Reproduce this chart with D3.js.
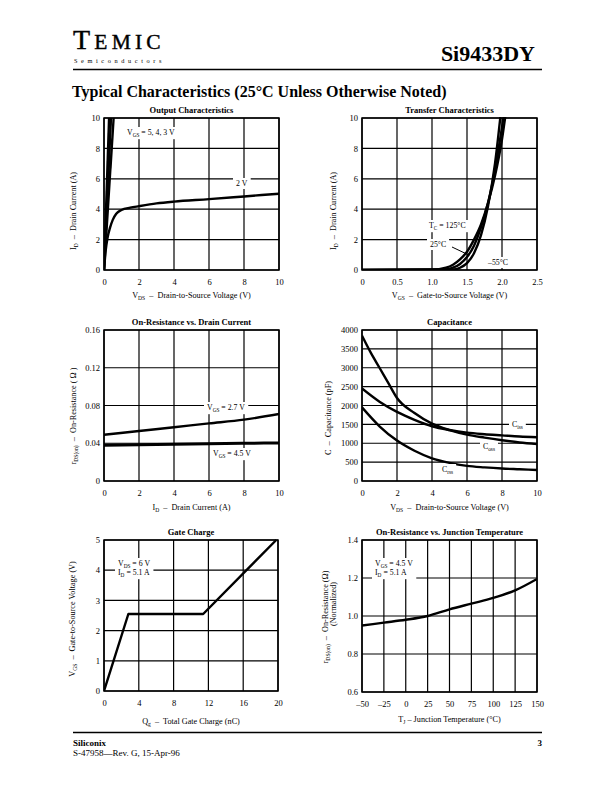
<!DOCTYPE html>
<html><head><meta charset="utf-8">
<script src="https://cdn.jsdelivr.net/npm/d3@7"></script>
<style>body{margin:0;background:#fff} svg{display:block}</style>
</head><body>
<script>
// ---------- DATA ----------
// Output characteristics (VDS, ID)
const outVgs5 = [[0,0],[0.29,10]];
const outVgs4 = [[0,0],[0.4,10]];
const outVgs3 = [[0,0],[0.55,10]];
const outVgs2 = [[0,0],[0.1,1.3],[0.2,2.1],[0.35,2.8],[0.5,3.3],[0.7,3.7],[1,3.95],[1.5,4.1],[2,4.2],[3,4.38],[4,4.5],[6,4.66],[8,4.84],[10,5.02]];
// Transfer characteristics (VGS, ID)
const trans125 = [[0,0],[1.0,0.02],[1.2,0.15],[1.3,0.35],[1.4,0.7],[1.5,1.2],[1.6,2.0],[1.7,3.0],[1.8,4.4],[1.9,6.2],[2.0,8.6],[2.05,10.2]];
const trans25  = [[0,0],[1.2,0.03],[1.3,0.15],[1.4,0.4],[1.5,0.85],[1.6,1.6],[1.7,2.8],[1.8,4.4],[1.9,6.6],[2.0,9.4],[2.03,10.3]];
const transM55 = [[0,0],[1.3,0.03],[1.4,0.15],[1.5,0.45],[1.6,1.1],[1.7,2.3],[1.8,4.2],[1.9,7.0],[1.98,10.2]];
// On-resistance vs drain current (ID, rDS)
const ronVgs27 = [[0,0.049],[2,0.053],[4,0.057],[6,0.061],[8,0.065],[10,0.071]];
const ronVgs45 = [[0,0.038],[2,0.0385],[4,0.039],[6,0.0395],[8,0.04],[10,0.0402]];
// Capacitance (VDS, pF)
const capCurveA = [[0,3850],[0.5,3400],[1,3000],[1.5,2600],[2,2200],[3,1800],[4,1520],[5,1350],[6,1230],[7,1150],[8,1080],[9,1020],[10,980]];
const capCurveB = [[0,2450],[1,2100],[2,1830],[3,1620],[4,1450],[5,1350],[6,1280],[7,1240],[8,1210],[9,1180],[10,1160]];
const capCurveC = [[0,1950],[1,1450],[2,1070],[3,800],[4,600],[5,480],[6,400],[7,360],[8,330],[9,310],[10,290]];
// Gate charge (Qg, VGS)
const gateCharge = [[0,0],[2.8,2.55],[11.4,2.55],[19.8,5]];
// On-resistance vs junction temperature (TJ, normalized)
const ronTemp = [[-50,0.95],[-25,0.965],[0,0.98],[25,1.0],[50,1.035],[75,1.065],[100,1.095],[125,1.135],[150,1.195]];

// tick values & labels
const ticks0to10 = [0,2,4,6,8,10];
const ticks0to10Lbl = ["0","2","4","6","8","10"];
const ticksVgs = [0,0.5,1.0,1.5,2.0,2.5];
const ticksVgsLbl = ["0","0.5","1.0","1.5","2.0","2.5"];
const ticksRon = [0,0.04,0.08,0.12,0.16];
const ticksRonLbl = ["0","0.04","0.08","0.12","0.16"];
const ticksCap = [0,500,1000,1500,2000,2500,3000,3500,4000];
const ticksCapLbl = ["0","500","1000","1500","2000","2500","3000","3500","4000"];
const ticksQg = [0,4,8,12,16,20];
const ticksQgLbl = ["0","4","8","12","16","20"];
const ticksVgs5 = [0,1,2,3,4,5];
const ticksVgs5Lbl = ["0","1","2","3","4","5"];
const ticksTj = [-50,-25,0,25,50,75,100,125,150];
const ticksTjLbl = ["\u201350","\u201325","0","25","50","75","100","125","150"];
const ticksNorm = [0.6,0.8,1.0,1.2,1.4];
const ticksNormLbl = ["0.6","0.8","1.0","1.2","1.4"];

// ---------- DRAWING ----------
const W=612,H=792;
const svg=d3.select("body").append("svg").attr("width",W).attr("height",H)
  .style("font-family","'Liberation Serif','Times New Roman',serif");

function rich(g,str,x,y,size,opts={}){
  const t=g.append("text").attr("font-size",size).attr("text-anchor",opts.anchor||"start")
    .style("white-space","pre").attr("fill","#000");
  if(opts.weight) t.attr("font-weight",opts.weight);
  if(opts.rotate){ t.attr("transform",`translate(${x},${y}) rotate(-90)`).attr("x",0).attr("y",0);}
  else t.attr("x",x).attr("y",y);
  const re=/_\{([^}]*)\}/g; let last=0,m; const parts=[];
  while((m=re.exec(str))){ if(m.index>last) parts.push({t:str.slice(last,m.index)}); parts.push({t:m[1],sub:true}); last=re.lastIndex; }
  if(last<str.length) parts.push({t:str.slice(last)});
  const sh=size*0.28; let cur=0;
  parts.forEach(p=>{
    const ts=t.append("tspan").text(p.t);
    const target=p.sub?sh:0;
    if(target!==cur){ ts.attr("dy",target-cur); cur=target; }
    if(p.sub) ts.attr("font-size",size*0.68);
  });
  return t;
}
function label(g,lines,x,y,size,lh){
  const gg=g.append("g");
  const bg=gg.append("rect").attr("fill","#fff");
  const ts=lines.map((s,i)=>rich(gg,s,x,y+i*lh,size));
  let x0=1e9,y0=1e9,x1=-1e9,y1=-1e9;
  ts.forEach(t=>{const b=t.node().getBBox(); x0=Math.min(x0,b.x);y0=Math.min(y0,b.y);x1=Math.max(x1,b.x+b.width);y1=Math.max(y1,b.y+b.height);});
  const p=3;
  bg.attr("x",x0-p).attr("y",y0-1).attr("width",x1-x0+2*p).attr("height",y1-y0+2);
  return gg;
}

let clipId=0;
function panel(c){
  const g=svg.append("g");
  const x=d3.scaleLinear().domain(c.xd).range([c.l,c.r]);
  const y=d3.scaleLinear().domain(c.yd).range([c.b,c.t]);
  // grid
  g.append("g").selectAll("line").data(c.xt).join("line")
    .attr("x1",d=>x(d)).attr("x2",d=>x(d)).attr("y1",c.t).attr("y2",c.b)
    .attr("stroke","#000").attr("stroke-width",1.2);
  g.append("g").selectAll("line").data(c.yt).join("line")
    .attr("y1",d=>y(d)).attr("y2",d=>y(d)).attr("x1",c.l).attr("x2",c.r)
    .attr("stroke","#000").attr("stroke-width",1.2);
  // axes (labels only)
  const ax=g.append("g").attr("transform",`translate(0,${c.b})`)
    .call(d3.axisBottom(x).tickValues(c.xt).tickSize(0).tickPadding(9).tickFormat((d,i)=>c.xl[i]));
  const ay=g.append("g").attr("transform",`translate(${c.l},0)`)
    .call(d3.axisLeft(y).tickValues(c.yt).tickSize(0).tickPadding(4).tickFormat((d,i)=>c.yl[i]));
  [ax,ay].forEach(a=>{a.select(".domain").remove();a.attr("font-family",null).attr("font-size",8.5);a.selectAll("text").attr("fill","#000");});
  // frame
  g.append("rect").attr("x",c.l).attr("y",c.t).attr("width",c.r-c.l).attr("height",c.b-c.t)
    .attr("fill","none").attr("stroke","#000").attr("stroke-width",1.5);
  // title
  g.append("text").attr("x",(c.l+c.r)/2).attr("y",c.t-5).attr("text-anchor","middle")
    .attr("font-size",8.5).attr("font-weight","bold").text(c.title);
  // axis titles
  rich(g,c.xtitle,(c.l+c.r)/2,c.xty,8.2,{anchor:"middle"});
  c.ytitle.forEach((s,i)=>rich(g,s,c.ytx[i],c.yty[i],8.2,{anchor:"middle",rotate:true}));
  // curves
  const id="clip"+(clipId++);
  g.append("clipPath").attr("id",id).append("rect").attr("x",c.l).attr("y",c.t-1).attr("width",c.r-c.l).attr("height",c.b-c.t+1);
  const cg=g.append("g").attr("clip-path",`url(#${id})`);
  c.series.forEach(s=>{
    const line=d3.line().x(d=>x(d[0])).y(d=>y(d[1])).curve(s.curve||d3.curveMonotoneX);
    cg.append("path").datum(s.data).attr("d",line).attr("fill","none").attr("stroke","#000")
      .attr("stroke-width",s.w||2.4).attr("stroke-linejoin","round");
  });
  return {g,x,y};
}

// Header
const hdr=svg.append("g");
const temic=hdr.append("text").attr("x",73).attr("y",49).attr("letter-spacing",4.2).attr("stroke","#000").attr("stroke-width",0.4);
temic.append("tspan").attr("font-size",28).text("T");
temic.append("tspan").attr("font-size",21.5).text("EMIC");
hdr.append("text").attr("x",74).attr("y",63).attr("font-size",6.3).attr("letter-spacing",3.6).text("Semiconductors");
hdr.append("text").attr("x",535).attr("y",61).attr("text-anchor","end").attr("font-size",22).attr("font-weight","bold").text("Si9433DY");
hdr.append("line").attr("x1",73).attr("x2",542).attr("y1",69.5).attr("y2",69.5).attr("stroke","#000").attr("stroke-width",1.3);
hdr.append("text").attr("x",72).attr("y",97).attr("font-size",16).attr("font-weight","bold").text("Typical Characteristics (25\u00B0C Unless Otherwise Noted)");

// Footer
const ftr=svg.append("g");
ftr.append("line").attr("x1",73).attr("x2",542).attr("y1",732.5).attr("y2",732.5).attr("stroke","#000").attr("stroke-width",1.3);
ftr.append("text").attr("x",73).attr("y",746).attr("font-size",9).attr("font-weight","bold").text("Siliconix");
ftr.append("text").attr("x",542).attr("y",746).attr("text-anchor","end").attr("font-size",9).attr("font-weight","bold").text("3");
ftr.append("text").attr("x",73).attr("y",756).attr("font-size",9).text("S-47958\u2014Rev. G, 15-Apr-96");

// Panel 1: Output Characteristics
const p1=panel({l:104,r:279,t:118,b:270,xd:[0,10],yd:[0,10],xt:ticks0to10,xl:ticks0to10Lbl,yt:ticks0to10,yl:ticks0to10Lbl,
  title:"Output Characteristics",xtitle:"V_{DS}  \u2013  Drain-to-Source Voltage (V)",xty:298,
  ytitle:["I_{D}  \u2013  Drain Current (A)"],ytx:[76],yty:[211],
  series:[{data:outVgs5},{data:outVgs4},{data:outVgs3},{data:outVgs2}]});
label(p1.g,["V_{GS} = 5, 4, 3 V"],127,135,7.8,9);
label(p1.g,["2 V"],236,186,7.8,9);

// Panel 2: Transfer Characteristics
const p2=panel({l:362,r:537,t:118,b:270,xd:[0,2.5],yd:[0,10],xt:ticksVgs,xl:ticksVgsLbl,yt:ticks0to10,yl:ticks0to10Lbl,
  title:"Transfer Characteristics",xtitle:"V_{GS}  \u2013  Gate-to-Source Voltage (V)",xty:298,
  ytitle:["I_{D}  \u2013  Drain Current (A)"],ytx:[336],yty:[211],
  series:[{data:trans125},{data:trans25},{data:transM55}]});
label(p2.g,["T_{C} = 125\u00B0C"],429,228,7.8,9);
label(p2.g,["25\u00B0C"],430,247,7.8,9);
p2.g.append("line").attr("x1",452).attr("y1",247).attr("x2",p2.x(1.52)).attr("y2",p2.y(1.0)).attr("stroke","#000").attr("stroke-width",1);
label(p2.g,["\u201355\u00B0C"],488,265,7.8,9);

// Panel 3: On-Resistance vs Drain Current
const p3=panel({l:104,r:279,t:330,b:481,xd:[0,10],yd:[0,0.16],xt:ticks0to10,xl:ticks0to10Lbl,yt:ticksRon,yl:ticksRonLbl,
  title:"On-Resistance vs. Drain Current",xtitle:"I_{D}  \u2013  Drain Current (A)",xty:510,
  ytitle:["r_{DS(on)}  \u2013  On-Resistance ( \u03A9 )"],ytx:[76],yty:[416],
  series:[{data:ronVgs27},{data:ronVgs45,w:3}]});
label(p3.g,["V_{GS} = 2.7 V"],207,410,7.8,9);
label(p3.g,["V_{GS} = 4.5 V"],213,456,7.8,9);

// Panel 4: Capacitance
const p4=panel({l:362,r:537,t:330,b:481,xd:[0,10],yd:[0,4000],xt:ticks0to10,xl:ticks0to10Lbl,yt:ticksCap,yl:ticksCapLbl,
  title:"Capacitance",xtitle:"V_{DS}  \u2013  Drain-to-Source Voltage (V)",xty:510,
  ytitle:["C  \u2013  Capacitance (pF)"],ytx:[331],yty:[418],
  series:[{data:capCurveA},{data:capCurveB},{data:capCurveC}]});
label(p4.g,["C_{iss}"],512,427,7.8,9);
label(p4.g,["C_{oss}"],483,449,7.8,9);
label(p4.g,["C_{rss}"],442,472,7.8,9);

// Panel 5: Gate Charge
const p5=panel({l:104,r:278,t:540,b:691,xd:[0,20],yd:[0,5],xt:ticksQg,xl:ticksQgLbl,yt:ticksVgs5,yl:ticksVgs5Lbl,
  title:"Gate Charge",xtitle:"Q_{g}  \u2013  Total Gate Charge (nC)",xty:724,
  ytitle:["V_{GS}  \u2013  Gate-to-Source Voltage (V)"],ytx:[75],yty:[619],
  series:[{data:gateCharge,curve:d3.curveLinear}]});
label(p5.g,["V_{DS} = 6 V","I_{D} = 5.1 A"],118,566,7.8,9);

// Panel 6: On-Resistance vs Junction Temperature
const p6=panel({l:362,r:537,t:540,b:692,xd:[-50,150],yd:[0.6,1.4],xt:ticksTj,xl:ticksTjLbl,yt:ticksNorm,yl:ticksNormLbl,
  title:"On-Resistance vs. Junction Temperature",xtitle:"T_{J} \u2013 Junction Temperature (\u00B0C)",xty:722,
  ytitle:["r_{DS(on)}  \u2013  On-Resistance (\u03A9)","(Normalized)"],ytx:[328,336],yty:[617,604],
  series:[{data:ronTemp}]});
label(p6.g,["V_{GS} = 4.5 V","I_{D} = 5.1 A"],375,566,7.8,9);
</script>
</body></html>
